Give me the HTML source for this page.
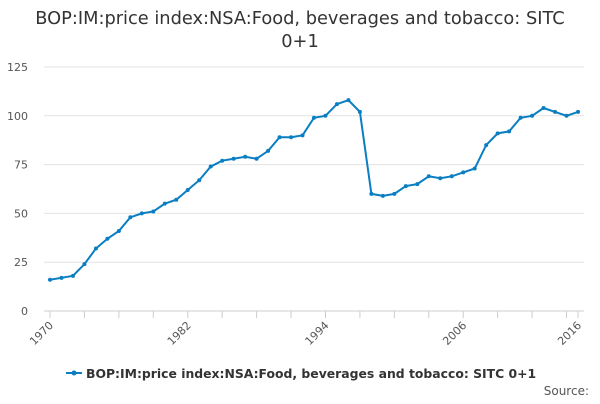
<!DOCTYPE html>
<html><head><meta charset="utf-8"><style>
body{margin:0;background:#fff;font-family:"DejaVu Sans","Liberation Sans",sans-serif;}
</style></head><body>
<svg width="600" height="400" viewBox="0 0 600 400" font-family="DejaVu Sans, Liberation Sans, sans-serif">
<text x="300" y="24" text-anchor="middle" font-size="17.8" fill="#333">BOP:IM:price index:NSA:Food, beverages and tobacco: SITC</text>
<text x="300" y="47" text-anchor="middle" font-size="17.8" fill="#333">0+1</text>
<g id="grid"></g><g id="xaxis"></g><g id="series"></g>
<g>
<line x1="66" y1="373" x2="82" y2="373" stroke="#0a7ec2" stroke-width="2"/>
<circle cx="74" cy="373" r="2.5" fill="#0a7ec2"/>
<text x="86" y="378" font-size="12.4" font-weight="bold" fill="#333">BOP:IM:price index:NSA:Food, beverages and tobacco: SITC 0+1</text>
</g>
<text x="589" y="395" text-anchor="end" font-size="12" fill="#555">Source:</text>
</svg>
<script>
const years=[];for(let y=1970;y<=2016;y++)years.push(y);
const values=[16,17,18,24,32,37,41,48,50,51,55,57,62,67,74,77,78,79,78,82,89,89,90,99,100,106,108,102,60,59,60,64,65,69,68,69,71,73,85,91,92,99,100,104,102,100,102];
const yTicks=[0,25,50,75,100,125];
const xLabels=[1970,1982,1994,2006,2016];
const NS='http://www.w3.org/2000/svg';
const X=v=>50+(v-1970)*(578-50)/46;
const Y=v=>311-v*(311-67)/125;
function mk(t,a,p){const e=document.createElementNS(NS,t);for(const k in a)e.setAttribute(k,a[k]);p.appendChild(e);return e;}
const g=document.getElementById('grid');
yTicks.forEach(v=>{
 const l=mk('line',{x1:44,x2:584,y1:Y(v),y2:Y(v),stroke:v===0?'#ccc':'#e3e3e3','stroke-width':1},g);
 
 
 const t=mk('text',{x:28,y:Y(v)+4,'text-anchor':'end','font-size':11,fill:'#555'},g);
 t.textContent=v;
 
 
});
const xa=document.getElementById('xaxis');
for(let y=1970;y<=2016;y+=3){
 const l=mk('line',{x1:X(y),x2:X(y),y1:311,y2:318,stroke:'#ccc'},xa);
 
 
}
mk('line',{x1:X(2016),x2:X(2016),y1:311,y2:318,stroke:'#ccc'},xa);
xLabels.forEach(y=>{
 const t=mk('text',{x:X(y)+4,y:326,'text-anchor':'end','font-size':11,fill:'#555',transform:`rotate(-45 ${X(y)+4} 326)`},xa);
 t.textContent=y;
 
 
});
const s=document.getElementById('series');
const pl=mk('polyline',{points:values.map((v,i)=>X(years[i])+','+Y(v)).join(' '),fill:'none',stroke:'#0a7ec2','stroke-width':2},s);


values.forEach((v,i)=>{
 const c=mk('circle',{cx:X(years[i]),cy:Y(v),r:2,fill:'#0a7ec2'},s);
 
 
});
</script>
</body></html>
